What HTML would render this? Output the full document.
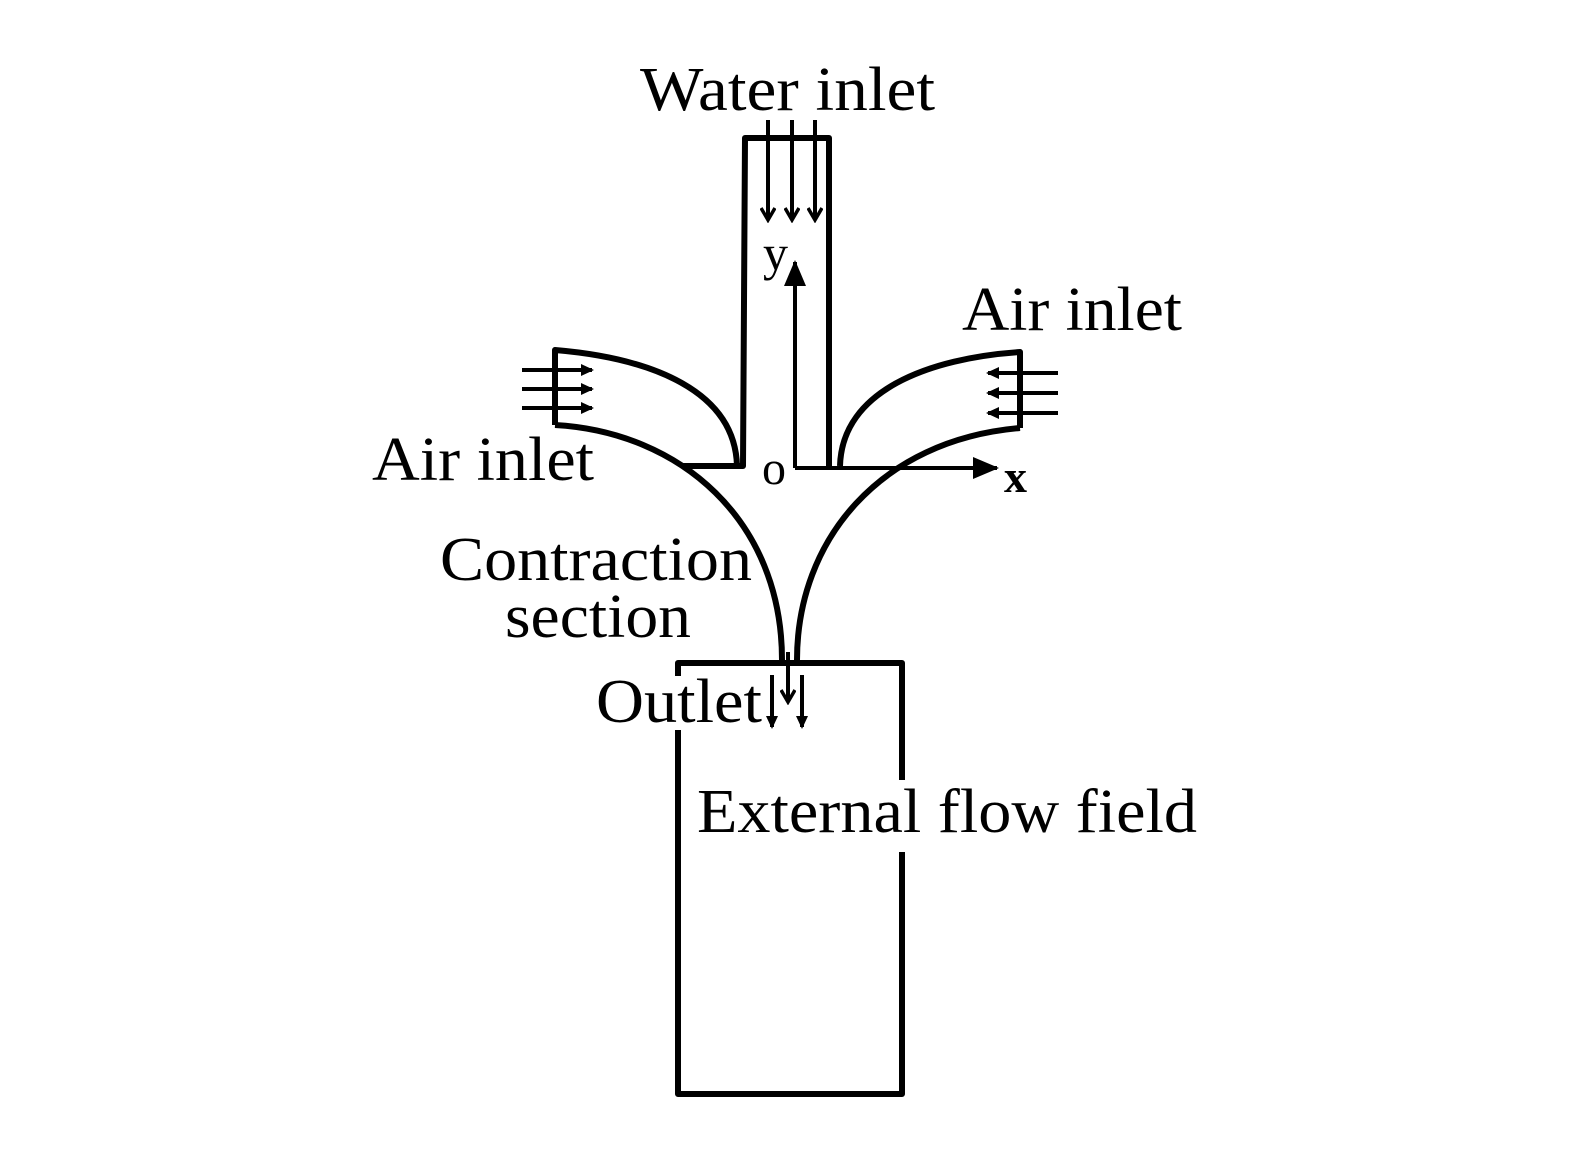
<!DOCTYPE html>
<html><head><meta charset="utf-8"><style>
html,body{margin:0;padding:0;background:#fff;}
svg{display:block;}
text{font-family:"Liberation Serif",serif;fill:#000;}
</style></head><body>
<svg width="1573" height="1169" viewBox="0 0 1573 1169" xmlns="http://www.w3.org/2000/svg">
<defs>
<marker id="ah" markerWidth="14" markerHeight="14" refX="11" refY="7" orient="auto" markerUnits="userSpaceOnUse">
<path d="M0,1 L13,7 L0,13 Z" fill="#000"/></marker>
<marker id="ao" markerWidth="16" markerHeight="16" refX="13" refY="8" orient="auto" markerUnits="userSpaceOnUse">
<path d="M1,1 L13,8 L1,15" fill="none" stroke="#000" stroke-width="3.5"/></marker>
<marker id="ab" markerWidth="26" markerHeight="22" refX="24" refY="11" orient="auto" markerUnits="userSpaceOnUse">
<path d="M0,0 L26,11 L0,22 Z" fill="#000"/></marker>
</defs>
<g fill="none" stroke="#000" stroke-width="6" stroke-linejoin="round">
<path d="M683,466 L743,466 L745,138 L829,138 L829,468"/>
<path d="M737,466 C735,390 650,358 555,350 L555,425"/>
<path d="M555,425 C680,432 782,520 782,660"/>
<path d="M840,466 C842,390 930,358 1020,352 L1020,428"/>
<path d="M1020,428 C880,440 797,540 797,660"/>
<path d="M678,676 L678,663 L902,663 L902,780"/>
<path d="M678,730 L678,1094 L902,1094 L902,852"/>
</g>
<g stroke="#000" stroke-width="4" fill="none">
<line x1="768" y1="120" x2="768" y2="220" marker-end="url(#ao)"/>
<line x1="792" y1="120" x2="792" y2="220" marker-end="url(#ao)"/>
<line x1="815" y1="120" x2="815" y2="220" marker-end="url(#ao)"/>
<line x1="522" y1="370" x2="592" y2="370" marker-end="url(#ah)"/>
<line x1="522" y1="389" x2="592" y2="389" marker-end="url(#ah)"/>
<line x1="522" y1="408" x2="592" y2="408" marker-end="url(#ah)"/>
<line x1="1058" y1="373" x2="988" y2="373" marker-end="url(#ah)"/>
<line x1="1058" y1="393" x2="988" y2="393" marker-end="url(#ah)"/>
<line x1="1058" y1="413" x2="988" y2="413" marker-end="url(#ah)"/>
<line x1="788" y1="652" x2="788" y2="702" marker-end="url(#ao)"/>
<line x1="772" y1="675" x2="772" y2="727" marker-end="url(#ah)"/>
<line x1="802" y1="675" x2="802" y2="727" marker-end="url(#ah)"/>
</g>
<g stroke="#000" stroke-width="4" fill="none">
<path d="M795,468 L795,262" marker-end="url(#ab)"/>
<path d="M795,468 L997,468" marker-end="url(#ab)"/>
</g>
<text x="640" y="110" font-size="62" textLength="295" lengthAdjust="spacingAndGlyphs">Water inlet</text>
<text x="962" y="330" font-size="62" textLength="220" lengthAdjust="spacingAndGlyphs">Air inlet</text>
<text x="372" y="480" font-size="62" textLength="222" lengthAdjust="spacingAndGlyphs">Air inlet</text>
<text x="440" y="580" font-size="62" textLength="312" lengthAdjust="spacingAndGlyphs">Contraction</text>
<text x="505" y="637" font-size="62" textLength="186" lengthAdjust="spacingAndGlyphs">section</text>
<text x="596" y="722" font-size="62" textLength="166" lengthAdjust="spacingAndGlyphs">Outlet</text>
<text x="697" y="832" font-size="62" textLength="500" lengthAdjust="spacingAndGlyphs">External flow field</text>
<text x="763" y="270" font-size="50">y</text>
<text x="762" y="484" font-size="48">o</text>
<text x="1004" y="492" font-size="46" font-weight="bold">x</text>
</svg>
</body></html>
